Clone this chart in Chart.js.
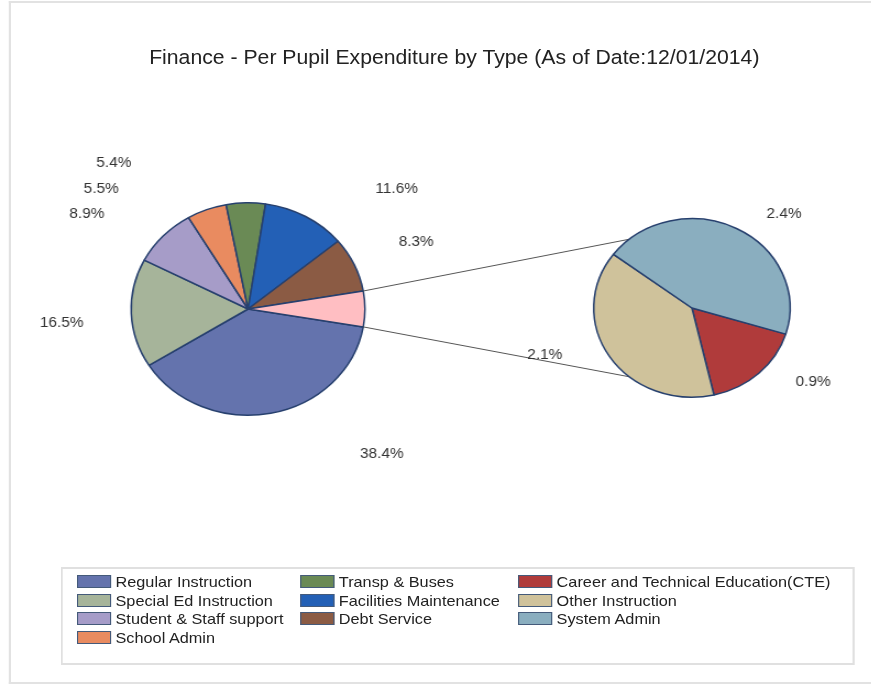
<!DOCTYPE html>
<html>
<head>
<meta charset="utf-8">
<script src="https://cdn.jsdelivr.net/npm/chart.js@4/dist/chart.umd.min.js"></script>
<style>
  body { margin: 0; background: #fff; font-family: "Liberation Sans", Arial, sans-serif; overflow: hidden; }
  /* the original export is stretched horizontally by about 10% */
  #wrap { position: relative; width: 792px; height: 684px; overflow: hidden;
          transform: scaleX(1.1); transform-origin: 0 0; }
  #frame { position: absolute; left: 8px; top: 1px; width: 900px; height: 679px;
           border-left: 2px solid #e2e2e2; border-top: 2px solid #e2e2e2; border-bottom: 2px solid #e2e2e2; }
  #title { position: absolute; left: 0; width: 826px; top: 47px; text-align: center;
           font-size: 19.3px; color: #222; }
  canvas { position: absolute; left: 0; top: 0; }
  #legend { position: absolute; left: 55px; top: 567px; width: 718px; height: 94px;
            border: 2px solid #e0e0e0; font-size: 14.8px; color: #222; }
  .item { position: absolute; height: 18px; line-height: 18px; white-space: nowrap; }
  .sw { display: inline-block; width: 29px; height: 11px; border: 1px solid #445a7a;
        vertical-align: -1px; margin-right: 4px; }
</style>
</head>
<body>
<div id="wrap">
  <div id="frame"></div>
  <div id="title">Finance - Per Pupil Expenditure by Type (As of Date:12/01/2014)</div>
  <canvas id="mainPie" width="792" height="684"></canvas>
  <canvas id="subPie" width="792" height="684"></canvas>
  <div id="legend"></div>
</div>
<script>
// Main pie categories (last one is the combined "other" slice that is split out)
const mainLabels = ['Regular Instruction', 'Special Ed Instruction', 'Student & Staff support',
    'School Admin', 'Transp & Buses', 'Facilities Maintenance', 'Debt Service', 'Other'];
const mainValues = [38.4, 16.5, 8.9, 5.5, 5.4, 11.6, 8.3, 5.4];
const mainColors = ['#6473ad', '#a6b49a', '#a69cc8', '#e98b60', '#6a8a55', '#2360b6', '#8b5b44', '#ffbec2'];

// Secondary pie (breakdown of the "Other" slice)
const subLabels = ['Career and Technical Education(CTE)', 'Other Instruction', 'System Admin'];
const subValues = [0.9, 2.1, 2.4];
const subColors = ['#b03b3b', '#cfc29b', '#8aaebf'];

const borderCol = '#27406e';

// label placement: [angle in degrees (screen), distance as multiple of radius]
const mainLabelPos = [[50, 1.78], [175.3, 1.60], [-147.2, 1.64], [-138, 1.69], [-129.9, 1.79], [-41.6, 1.70], [-23.6, 1.57], null];
const subLabelPos = [[34, 1.49], [160.4, 1.59], [-48.3, 1.41]];

const pctLabels = {
    id: 'pctLabels',
    afterDatasetsDraw(chart, args, opts) {
        const ctx = chart.ctx;
        const meta = chart.getDatasetMeta(0);
        const values = chart.data.datasets[0].data;
        ctx.save();
        ctx.font = '14px "Liberation Sans", Arial, sans-serif';
        ctx.fillStyle = '#333';
        ctx.textAlign = 'center';
        ctx.textBaseline = 'middle';
        meta.data.forEach((arc, i) => {
            const p = opts.pos[i];
            if (!p) return;
            const a = p[0] * Math.PI / 180;
            const r = arc.outerRadius * p[1];
            ctx.fillText(values[i].toFixed(1) + '%', arc.x + Math.cos(a) * r, arc.y + Math.sin(a) * r);
        });
        ctx.restore();
    }
};

Chart.defaults.animation = false;

const mainChart = new Chart(document.getElementById('mainPie'), {
    type: 'pie',
    data: {
        labels: mainLabels,
        datasets: [{
            data: mainValues,
            backgroundColor: mainColors,
            borderColor: borderCol,
            borderWidth: 1.5
        }]
    },
    options: {
        responsive: false,
        rotation: 99.7,
        layout: { padding: { left: 118.5, right: 459.5, top: 202, bottom: 268 } },
        plugins: {
            legend: { display: false },
            tooltip: { enabled: false },
            pctLabels: { pos: mainLabelPos }
        }
    },
    plugins: [pctLabels]
});

// connector lines from the split slice to the secondary pie
const connector = {
    id: 'connector',
    beforeDatasetsDraw(chart) {
        const src = mainChart.getDatasetMeta(0).data[mainValues.length - 1];
        const dst = chart.getDatasetMeta(0).data[0];
        const ctx = chart.ctx;
        const ends = [[src.startAngle, Math.PI + 0.88], [src.endAngle, Math.PI - 0.88]];
        ctx.save();
        ctx.strokeStyle = '#555';
        ctx.lineWidth = 1;
        ends.forEach(([a, b]) => {
            ctx.beginPath();
            ctx.moveTo(src.x + Math.cos(a) * src.outerRadius, src.y + Math.sin(a) * src.outerRadius);
            ctx.lineTo(dst.x + Math.cos(b) * dst.outerRadius, dst.y + Math.sin(b) * dst.outerRadius);
            ctx.stroke();
        });
        ctx.restore();
    }
};

new Chart(document.getElementById('subPie'), {
    type: 'pie',
    data: {
        labels: subLabels,
        datasets: [{
            data: subValues,
            backgroundColor: subColors,
            borderColor: borderCol,
            borderWidth: 1.5
        }]
    },
    options: {
        responsive: false,
        rotation: 107,
        layout: { padding: { left: 539, right: 73, top: 218, bottom: 286 } },
        plugins: {
            legend: { display: false },
            tooltip: { enabled: false },
            pctLabels: { pos: subLabelPos }
        }
    },
    plugins: [connector, pctLabels]
});

// legend, column by column
const legend = document.getElementById('legend');
const columns = [
    { x: 13, labels: mainLabels.slice(0, 4), colors: mainColors.slice(0, 4) },
    { x: 216, labels: mainLabels.slice(4, 7), colors: mainColors.slice(4, 7) },
    { x: 414, labels: subLabels, colors: subColors }
];
columns.forEach(col => {
    col.labels.forEach((lab, i) => {
        const el = document.createElement('div');
        el.className = 'item';
        el.style.left = col.x + 'px';
        el.style.top = (4 + i * 18.5) + 'px';
        const sw = document.createElement('span');
        sw.className = 'sw';
        sw.style.background = col.colors[i];
        el.appendChild(sw);
        el.appendChild(document.createTextNode(lab));
        legend.appendChild(el);
    });
});
</script>
</body>
</html>
